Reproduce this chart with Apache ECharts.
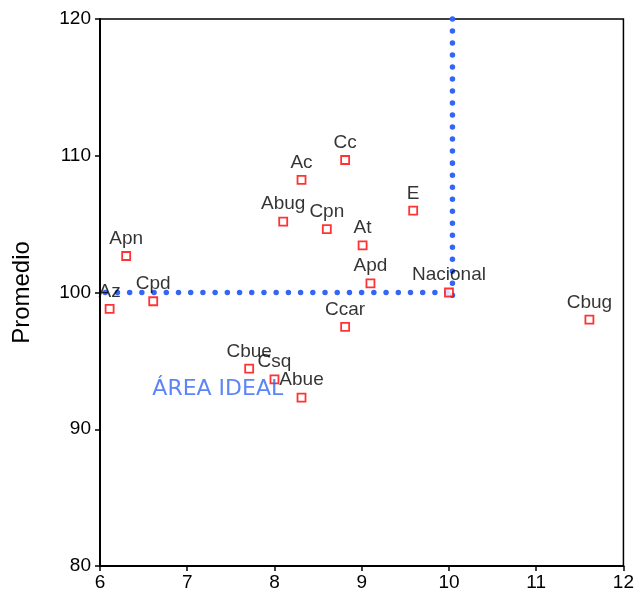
<!DOCTYPE html>
<html>
<head>
<meta charset="utf-8">
<script src="https://cdn.jsdelivr.net/npm/echarts@6/dist/echarts.min.js"></script>
<style>html,body{margin:0;padding:0;background:#fff;}#c{width:637px;height:595px;}</style>
</head>
<body>
<div id="c"></div>
<script>
// Data
const names = ['Az','Cpd','Apn','Abug','Ac','Cc','Cpn','At','E','Apd','Nacional','Ccar','Cbug','Cbue','Csq','Abue'];
const xValues = [6.11, 6.61, 6.30, 8.10, 8.31, 8.81, 8.60, 9.01, 9.59, 9.10, 10.00, 8.81, 11.61, 7.71, 8.00, 8.31];
const yValues = [98.8, 99.36, 102.67, 105.18, 108.23, 109.69, 104.64, 103.45, 105.98, 100.67, 100.0, 97.48, 98.01, 94.43, 93.65, 92.31];
const hLine = [[5.92, 100], [10.0, 100]];
const vLine = [[10.04, 120], [10.04, 99.7]];
const areaLabel = { text: 'ÁREA IDEAL', pos: [6.6, 92.95] };
const xTicks = [6, 7, 8, 9, 10, 11, 12];
const yTicks = [80, 90, 100, 110, 120];

const blue = '#3366f5';
const pts = names.map((n, i) => ({ name: n, value: [xValues[i], yValues[i]] }));

const chart = echarts.init(document.getElementById('c'));
chart.setOption({
  animation: false,
  grid: { left: 100, right: 12, top: 19, bottom: 29, show: true, borderColor: '#000', borderWidth: 1.5, backgroundColor: 'transparent' },
  xAxis: {
    type: 'value', min: xTicks[0], max: xTicks[xTicks.length - 1], interval: 1,
    axisLine: { show: true, onZero: false, lineStyle: { color: '#000', width: 2 } },
    axisTick: { show: true, length: 5, lineStyle: { color: '#000', width: 1.5 } },
    axisLabel: { color: '#000', fontSize: 19, fontFamily: 'Liberation Sans', margin: 7 },
    splitLine: { show: false }
  },
  yAxis: {
    type: 'value', min: yTicks[0], max: yTicks[yTicks.length - 1], interval: 10,
    name: 'Promedio', nameLocation: 'middle', nameGap: 66,
    nameTextStyle: { color: '#000', fontSize: 24, fontFamily: 'Liberation Sans' },
    axisLine: { show: true, onZero: false, lineStyle: { color: '#000', width: 2 } },
    axisTick: { show: true, length: 5, lineStyle: { color: '#000', width: 1.5 } },
    axisLabel: { color: '#000', fontSize: 19, fontFamily: 'Liberation Sans', margin: 9 },
    splitLine: { show: false }
  },
  series: [
    {
      type: 'line', data: hLine, clip: false, symbol: 'none', z: 1,
      lineStyle: { color: blue, width: 5.5, type: [0.01, 12.2], cap: 'round' }
    },
    {
      type: 'line', data: vLine, clip: false, symbol: 'none', z: 1,
      lineStyle: { color: blue, width: 5.5, type: [0.01, 12], cap: 'round' }
    },
    {
      type: 'scatter', data: pts, symbol: 'rect', symbolSize: 8, z: 3,
      itemStyle: { color: '#fff', borderColor: '#ff0000', borderWidth: 1.8 },
      label: {
        show: true, position: 'top', distance: 3, formatter: p => p.name,
        color: '#000', fontSize: 19, fontFamily: 'Liberation Sans'
      }
    },
    {
      type: 'scatter', data: [{ name: areaLabel.text, value: areaLabel.pos }], symbolSize: 0, z: 4,
      label: {
        show: true, position: 'right', distance: 0, formatter: p => p.name,
        color: blue, fontSize: 22, fontFamily: 'DejaVu Sans'
      }
    }
  ]
});
</script>
</body>
</html>
